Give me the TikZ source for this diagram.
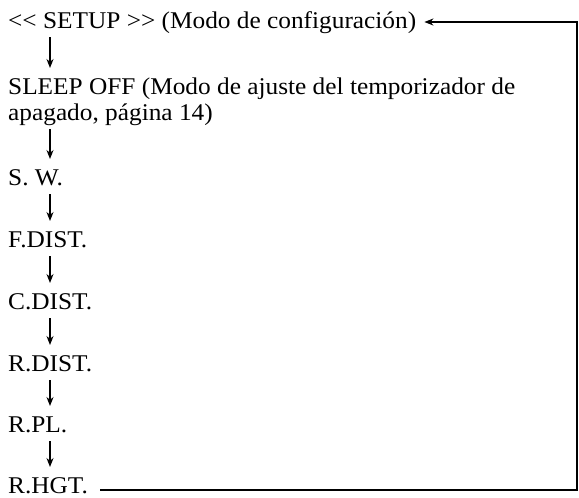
\documentclass[tikz,border=0pt]{standalone}
\usepackage{fontspec}
\setmainfont{Liberation Serif}[FakeStretch=1.055]
\usetikzlibrary{arrows.meta,calc}
\begin{document}
\begin{tikzpicture}[x=1pt,y=-1pt,
  lbl/.style={anchor=base west,inner sep=0pt,font=\fontsize{24}{28}\selectfont},
  tip/.style={-{Stealth[length=9pt,width=7pt]}},
  arr/.style={line width=1.4pt,tip},
  ret/.style={line width=1.6pt,line join=miter,tip}]
\useasboundingbox (0,0) rectangle (579,498);
\node[lbl] (setup) at (8,28) {<{}< SETUP >{}> (Modo de configuración)};
\node[lbl] (sleepa) at (8,94) {SLEEP OFF (Modo de ajuste del temporizador de};
\node[lbl] (sleepb) at (8,120) {apagado, página 14)};
\node[lbl] (sw) at (8,185) {S. W.};
\node[lbl] (fd) at (8,247) {F.DIST.};
\node[lbl] (cd) at (8,309) {C.DIST.};
\node[lbl] (rd) at (8,371) {R.DIST.};
\node[lbl] (rpl) at (8,432) {R.PL.};
\node[lbl] (rh) at (8,493) {R.HGT.};
\foreach \a/\b in {setup/sleepa,sleepb/sw,sw/fd,fd/cd,cd/rd,rd/rpl,rpl/rh}
  \draw[arr] ($(\a.base west)+(42,9)$) -- ($(\b.base west)+(42,-26)$);
\coordinate (c1) at (577,0);
\draw[ret]
  ($(rh.base east)+(12,-3)$) -| ($(c1)+(0,22)$) -- ($(setup.base east)+(8,-6)$);
\end{tikzpicture}
\end{document}
